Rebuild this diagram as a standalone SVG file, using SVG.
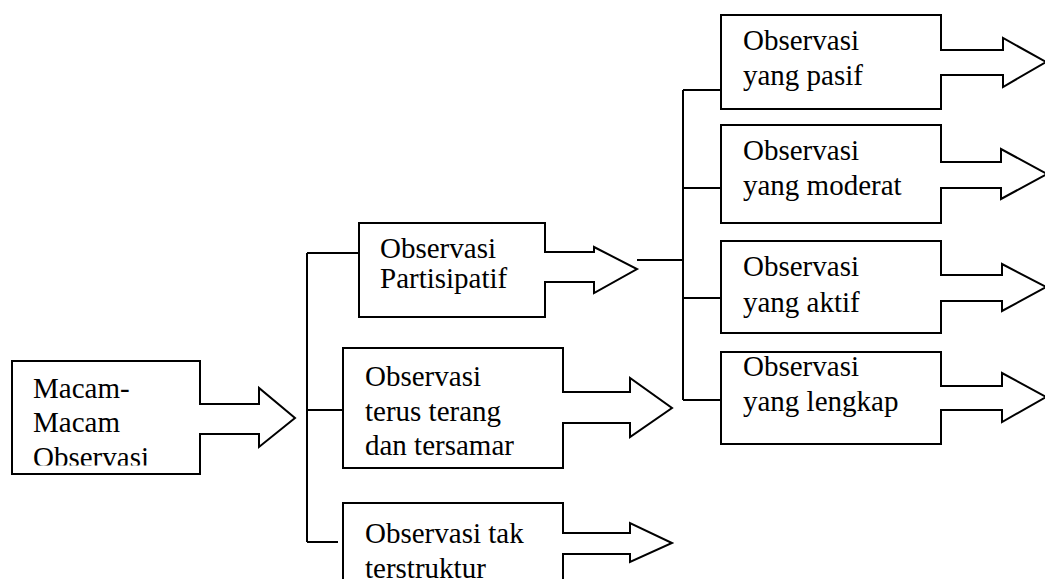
<svg xmlns="http://www.w3.org/2000/svg" width="1045" height="579" viewBox="0 0 1045 579">
<style>
.shape{fill:#fff;stroke:#000;stroke-width:2;stroke-linejoin:miter}
.conn{fill:none;stroke:#000;stroke-width:2}
.t{font-family:'Liberation Serif','DejaVu Serif',serif;font-size:29px;fill:#000}
</style>
<defs>
<clipPath id="c1"><rect x="12" y="361" width="188" height="104.5"/></clipPath>
<clipPath id="c3"><rect x="343" y="503" width="220" height="76"/></clipPath>
</defs>
<rect width="1045" height="579" fill="#fff"/>
<g id="connectors">
<path class="conn" d="M307,253 V542 M307,253 H359 M307,410 H343 M307,542 H338"/>
<path class="conn" d="M637,260 H683 M683,90 V400 M683,90 H721 M683,188 H721 M683,298 H721 M683,400 H721"/>
</g>
<g id="macam">
<path class="shape" d="M12,361 H200 V404 H259 V388 L295,418 L259,447 V434 H200 V474 H12 Z"/>
<g clip-path="url(#c1)" class="t" font-family="Liberation Serif, serif">
<text x="33" y="398">Macam-</text>
<text x="33" y="432">Macam</text>
<text x="33" y="467">Observasi</text>
</g>
</g>
<g id="partisipatif" class="t" font-family="Liberation Serif, serif">
<path class="shape" d="M359,223 H545 V252 H594 V247 L637,269 L594,293 V282 H545 V317 H359 Z"/>
<text x="380" y="258">Observasi</text>
<text x="380" y="288">Partisipatif</text>
</g>
<g id="terus-terang" class="t" font-family="Liberation Serif, serif">
<path class="shape" d="M343,348 H563 V392 H630 V378 L672,408 L630,437 V423 H563 V468 H343 Z"/>
<text x="365" y="386">Observasi</text>
<text x="365" y="421">terus terang</text>
<text x="365" y="455">dan tersamar</text>
</g>
<g id="tak-terstruktur">
<path class="shape" d="M343,590 V503 H563 V533 H630 V523 L672,543 L630,562 V554 H563 V590"/>
<g clip-path="url(#c3)" class="t" font-family="Liberation Serif, serif">
<text x="365" y="543">Observasi tak</text>
<text x="365" y="578">terstruktur</text>
</g>
</g>
<g id="pasif" class="t" font-family="Liberation Serif, serif">
<path class="shape" d="M721,15 H941 V50 H1003 V38 L1046,62 L1003,87 V75 H941 V109 H721 Z"/>
<text x="743" y="50">Observasi</text>
<text x="743" y="85">yang pasif</text>
</g>
<g id="moderat" class="t" font-family="Liberation Serif, serif">
<path class="shape" d="M721,125 H941 V162 H1001 V149 L1047,174 L1001,199 V188 H941 V223 H721 Z"/>
<text x="743" y="160">Observasi</text>
<text x="743" y="195">yang moderat</text>
</g>
<g id="aktif" class="t" font-family="Liberation Serif, serif">
<path class="shape" d="M721,241 H941 V275 H1002 V264 L1046,287 L1002,311 V301 H941 V333 H721 Z"/>
<text x="743" y="276">Observasi</text>
<text x="743" y="312">yang aktif</text>
</g>
<g id="lengkap" class="t" font-family="Liberation Serif, serif">
<path class="shape" d="M721,352 H941 V386 H1002 V373 L1046,397 L1002,422 V410 H941 V444 H721 Z"/>
<text x="743" y="376">Observasi</text>
<text x="743" y="411">yang lengkap</text>
</g>
</svg>
